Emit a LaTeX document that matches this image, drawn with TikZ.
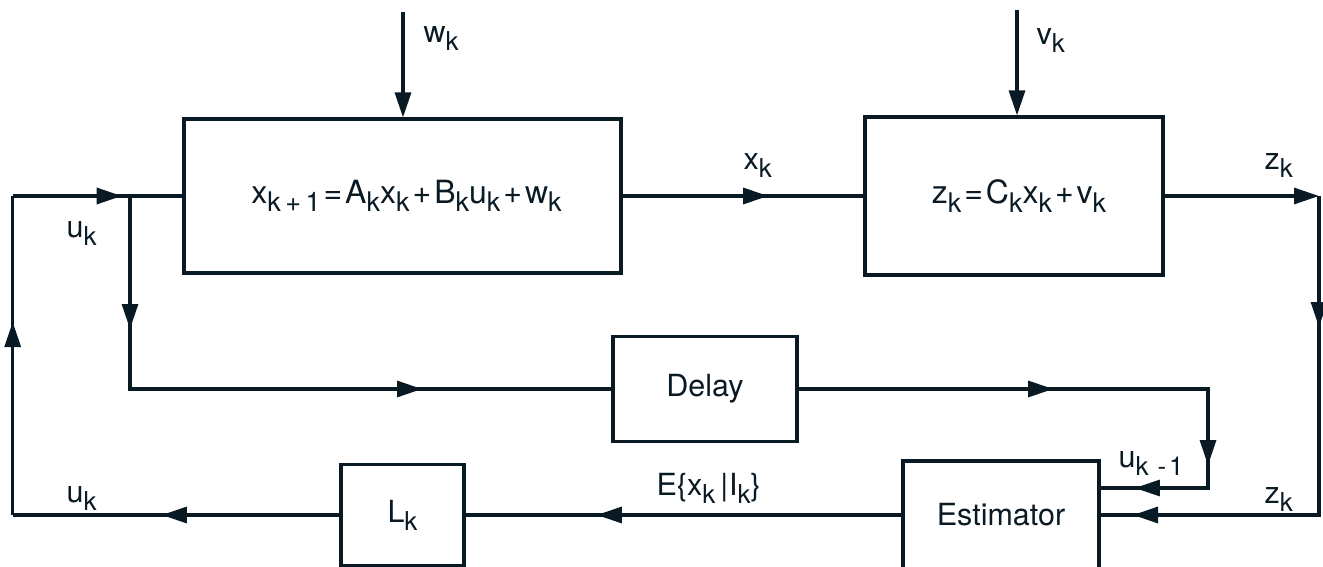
\documentclass[tikz,border=0pt]{standalone}
\usepackage{fontspec}
\setmainfont{TeX Gyre Heros}
\usetikzlibrary{arrows.meta,decorations.markings}
\definecolor{ink}{HTML}{0A1A24}
\newcommand\sbs[1]{\raisebox{-8pt}{\fontsize{26pt}{30pt}\selectfont #1}}
\newcommand\sbb[1]{\raisebox{-8.5pt}{\fontsize{27pt}{31pt}\selectfont #1}}
\newcommand\gp{\hspace{3pt}}
\begin{document}
\begin{tikzpicture}[x=1pt,y=-1pt,color=ink,line width=3.1pt,
  txt/.style={font=\fontsize{30.5pt}{36pt}\selectfont, text=ink},
  big/.style={font=\fontsize{32pt}{38pt}\selectfont},
  lab/.style={txt, inner sep=0pt, anchor=base west},
  blk/.style={txt, draw=ink, line width=3.1pt, inner sep=0pt},
  tipat/.style={postaction={decorate, decoration={markings,
     mark=at position #1 with {\arrow{Triangle[length=25pt,width=16pt]}}}}},
  endtip/.style={-{Triangle[length=25pt,width=16pt]}}
]
\useasboundingbox (0,0) rectangle (1323,567);
\fill[white] (0,0) rectangle (1323,567);
\clip (0,0) rectangle (1323,567);

% blocks
\node[blk, big, minimum width=437pt, minimum height=154pt] (sys) at (402.5,196)
  {\hspace{8pt}x\sbb{k\,+\,1}\gp=\gp A\sbb{k}x\sbb{k}\gp+\gp B\sbb{k}u\sbb{k}\gp+\gp w\sbb{k}};
\node[blk, big, minimum width=298pt, minimum height=158pt] (meas) at (1014,196)
  {\hspace{10pt}z\sbb{k}\gp=\gp C\sbb{k}x\sbb{k}\gp+\gp v\sbb{k}};
\node[blk, minimum width=184pt, minimum height=105pt] (delay) at (705,389) {Delay\hspace{14pt}};
\node[blk, minimum width=196pt, minimum height=108pt] (est) at (1001,515) {Estimator\hspace{13pt}};
\node[blk, minimum width=123pt, minimum height=101pt] (lk) at (402.5,515) {L\sbs{k}\hspace{7pt}};

% corner points
\coordinate (tl) at (12.7,196);
\coordinate (bl) at (12.7,515);
\coordinate (j)  at (130,196);
\coordinate (jd) at (130,389);
\coordinate (dr) at (1208,389);
\coordinate (dd) at (1208,488);
\coordinate (zr) at (1319,196);
\coordinate (zb) at (1319,515);
\coordinate (wt) at (403,12);
\coordinate (vt) at (1017,10);

% connectors
\draw[endtip] (wt) -- (wt |- sys.north);
\draw[endtip] (vt) -- (vt |- meas.north);
\draw[tipat=109pt] (tl) -- (sys.west);
\draw[tipat=145.6pt] (sys.east) -- (meas.west);
\draw[endtip] (meas.east) -- (zr);
\draw[tipat=131pt, tipat=505pt] (zr) -- (zb) -- (est.east);
\draw[tipat=133pt, tipat=485pt] (j) -- (jd) -- (delay.west);
\draw[tipat=254.6pt, tipat=485.6pt, tipat=581.6pt] (delay.east) -- (dr) -- (dd) -- (est.east |- dd);
\draw[tipat=304.6pt] (est.west) -- (lk.east);
\draw[tipat=177.6pt] (lk.west) -- (bl);
\draw[tipat=193pt] (bl) -- (tl);

% labels
\node[lab] (lw)  at (422,43)   {w\sbs{k}};
\node[lab] (lv)  at (1035,45)  {v\sbs{k}};
\node[lab] (lx)  at (742,170)  {x\sbs{k}};
\node[lab] (lz1) at (1263,170) {z\sbs{k}};
\node[lab] (lu1) at (65,237)   {u\sbs{k}};
\node[lab] (lu2) at (65,502)   {u\sbs{k}};
\node[lab] (lz2) at (1263,503) {z\sbs{k}};
\node[lab] (lum) at (1117,467) {u\sbs{k\hspace{9pt}-\hspace{3pt}1}};
\node[lab] (le)  at (655,495)  {E\{x\sbs{k}\hspace{5pt}|\hspace{1pt}I\sbs{k}\}};
\end{tikzpicture}
\end{document}
